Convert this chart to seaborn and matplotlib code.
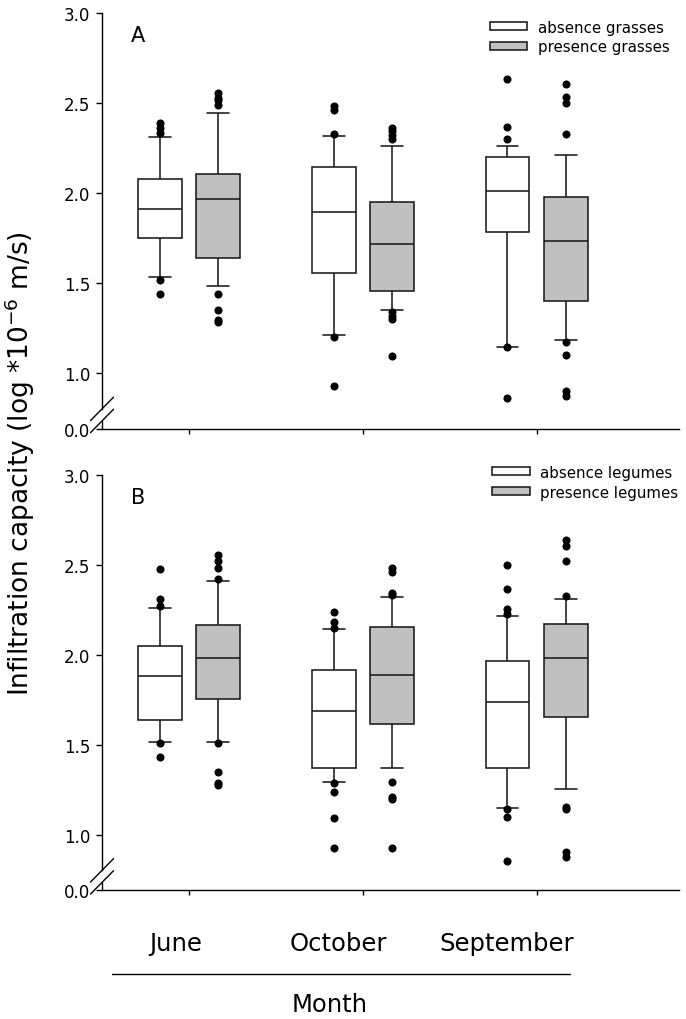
import matplotlib
matplotlib.use("Agg")
from matplotlib import pyplot as plt
from matplotlib import transforms
from matplotlib.lines import Line2D
import numpy as np
import pandas as pd
import seaborn as sns

months = ["June", "October", "September"]
grass_groups = ["absence grasses", "presence grasses"]
legume_groups = ["absence legumes", "presence legumes"]
box_colors = ["#ffffff", "#c0c0c0"]

# five-number boxes: lower whisker, q1, median, q3, upper whisker
grass_absent_box = [[1.536, 1.753, 1.912, 2.079, 2.312],
                    [1.214, 1.558, 1.896, 2.143, 2.318],
                    [1.149, 1.784, 2.012, 2.201, 2.262]]
grass_present_box = [[1.484, 1.642, 1.969, 2.105, 2.443],
                     [1.354, 1.458, 1.719, 1.951, 2.260],
                     [1.184, 1.401, 1.734, 1.977, 2.212]]
grass_absent_out = [[1.438, 1.519, 2.332, 2.362, 2.392],
                    [0.929, 1.201, 2.330, 2.464, 2.484],
                    [0.862, 1.145, 2.303, 2.369, 2.636]]
grass_present_out = [[1.284, 1.297, 1.354, 1.438, 2.488, 2.516, 2.530, 2.556],
                     [1.096, 1.303, 1.321, 1.340, 2.303, 2.321, 2.343, 2.364],
                     [0.877, 0.904, 1.101, 1.173, 2.329, 2.503, 2.532, 2.607]]

legume_absent_box = [[1.516, 1.636, 1.882, 2.049, 2.258],
                     [1.295, 1.373, 1.688, 1.916, 2.144],
                     [1.147, 1.369, 1.736, 1.968, 2.216]]
legume_present_box = [[1.516, 1.753, 1.981, 2.166, 2.407],
                      [1.369, 1.618, 1.888, 2.153, 2.319],
                      [1.255, 1.656, 1.981, 2.171, 2.310]]
legume_absent_out = [[1.431, 1.510, 2.268, 2.308, 2.477],
                     [0.925, 1.092, 1.240, 1.290, 2.147, 2.184, 2.240],
                     [0.855, 1.097, 1.144, 2.225, 2.255, 2.365, 2.496]]
legume_present_out = [[1.277, 1.290, 1.351, 1.512, 2.421, 2.481, 2.521, 2.554],
                      [0.929, 1.199, 1.212, 1.292, 2.329, 2.342, 2.462, 2.481],
                      [0.879, 0.903, 1.144, 1.156, 2.327, 2.523, 2.606, 2.636]]

y_ticks = [1.0, 1.5, 2.0, 2.5, 3.0]
y_bottom = 0.694      # where the 0.0 tick sits below the axis break
break_hi, break_lo = 0.803, 0.736


def build_frame(groups, box_lists):
    rows = []
    for group, boxes in zip(groups, box_lists):
        for month, five in zip(months, boxes):
            for v in five:
                rows.append({"month": month, "group": group, "value": v})
    return pd.DataFrame(rows)


def draw_break(ax):
    trans = transforms.blended_transform_factory(ax.transAxes, ax.transData)
    ax.spines["left"].set_bounds(break_hi, 3.0)
    ax.plot([0, 0], [y_bottom, break_lo], color="black", lw=1.0,
            transform=trans, clip_on=False)
    dx, dy = 0.02, 0.065
    for yb in (break_hi, break_lo):
        ax.plot([-dx, dx], [yb - dy, yb + dy], color="black", lw=1.0,
                transform=trans, clip_on=False)


def draw_panel(ax, groups, box_lists, out_lists, letter, legend_anchor):
    df = build_frame(groups, box_lists)
    sns.boxplot(data=df, x="month", y="value", hue="group", order=months,
                hue_order=groups, palette=dict(zip(groups, box_colors)),
                saturation=1, width=0.67, gap=0.245, whis=(0, 100),
                showfliers=False, linecolor="#1a1a1a", linewidth=1.15,
                legend=False, ax=ax)
    for cont, outs in zip(ax.containers, out_lists):
        for med, vals in zip(cont.medians, outs):
            xc = np.mean(med.get_xdata())
            ax.plot([xc] * len(vals), vals, "o", color="black", ms=4.8,
                    mec="black", clip_on=False, zorder=5)
    ax.set_xlim(-0.502, 2.82)
    ax.set_ylim(y_bottom, 3.0)
    ax.set_yticks([y_bottom] + y_ticks)
    ax.set_yticklabels(["0.0"] + [f"{t:.1f}" for t in y_ticks])
    ax.set_xlabel("")
    ax.set_ylabel("")
    ax.tick_params(axis="y", length=4.3, width=1.0, labelsize=12, pad=4,
                   color="black", labelcolor="black")
    ax.tick_params(axis="x", length=3.6, width=1.0, labelbottom=False, color="black")
    sns.despine(ax=ax)
    for side in ("left", "bottom"):
        ax.spines[side].set_color("black")
        ax.spines[side].set_linewidth(1.0)
    draw_break(ax)
    ax.text(0.062, 0.947, letter, transform=ax.transAxes, fontsize=15,
            ha="center", va="center", color="black")
    handles = [c.boxes[0] for c in ax.containers]
    leg = ax.legend(handles, groups, loc="center left", bbox_to_anchor=legend_anchor,
                    frameon=False, fontsize=10.8, handlelength=2.5, handleheight=0.45,
                    handletextpad=0.7, labelspacing=0.32, borderpad=0, borderaxespad=0)
    for t in leg.get_texts():
        t.set_color("black")


sns.set_style("ticks")
plt.rcParams["font.family"] = ["DejaVu Sans"]
plt.rcParams["text.color"] = "black"

fig = plt.figure(figsize=(6.86, 10.2), dpi=100)
ax_a = fig.add_axes([0.1487, 0.5789, 0.8411, 0.4074])
ax_b = fig.add_axes([0.1487, 0.1265, 0.8411, 0.4072])

draw_panel(ax_a, grass_groups, [grass_absent_box, grass_present_box],
           [grass_absent_out, grass_present_out], "A", (0.672, 0.942))
draw_panel(ax_b, legume_groups, [legume_absent_box, legume_present_box],
           [legume_absent_out, legume_present_out], "B", (0.676, 0.982))

# month labels and axis titles
for name, xc in zip(months, [176, 338, 507]):
    fig.text(xc / 686, 1 - 951 / 1020, name, fontsize=17.5, ha="center",
             va="baseline", color="black")
fig.add_artist(Line2D([112 / 686, 570 / 686], [1 - 975 / 1020, 1 - 975 / 1020],
                      color="black", lw=1.0))
fig.text(330 / 686, 1 - 1012 / 1020, "Month", fontsize=17.5, ha="center",
         va="baseline", color="black")
fig.text(20 / 686, 1 - 464 / 1020, "Infiltration capacity (log *10$^{-6}$ m/s)",
         rotation=90, fontsize=19, ha="center", va="center", color="black")

fig.savefig("out.png", dpi=100)
